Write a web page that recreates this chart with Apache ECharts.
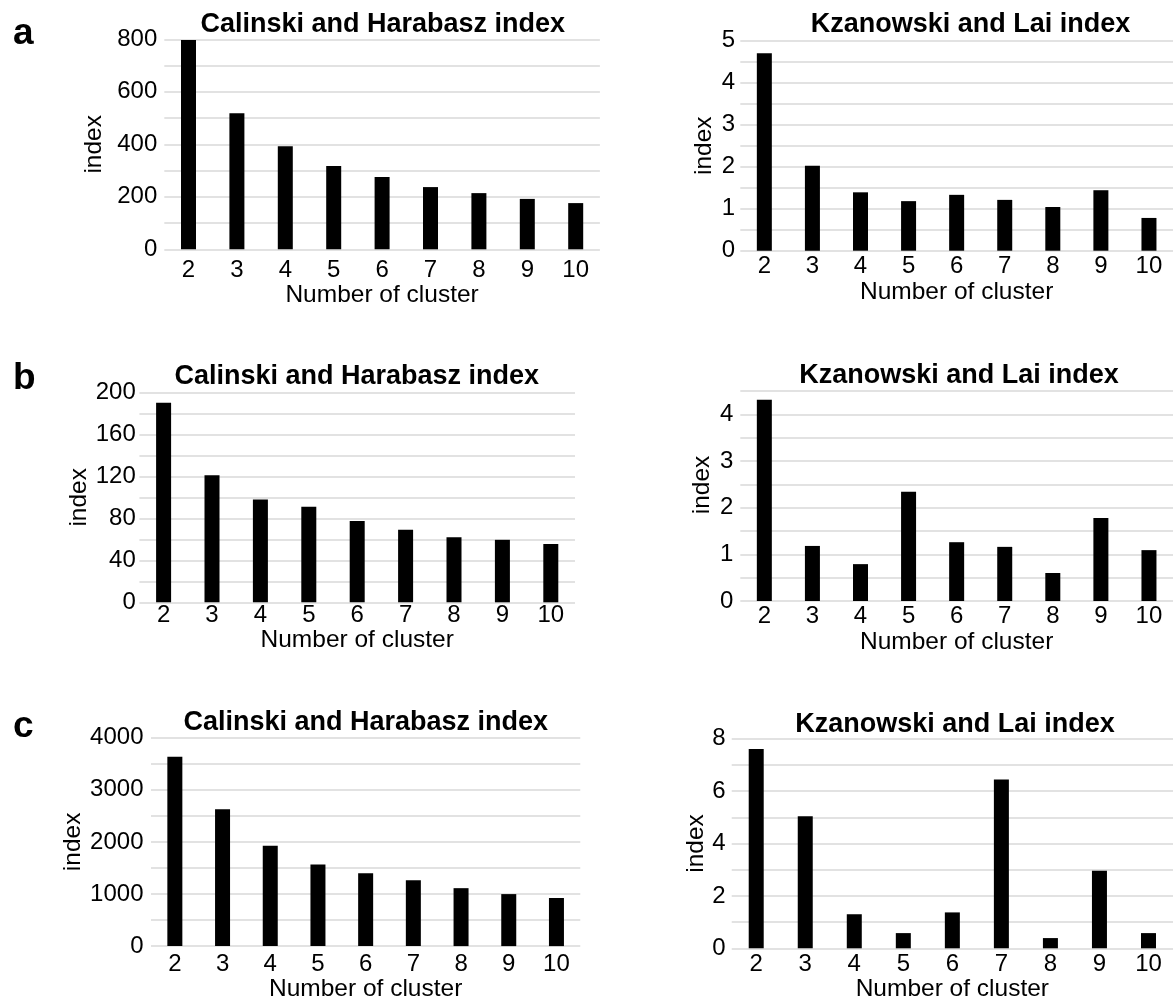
<!DOCTYPE html>
<html>
<head>
<meta charset="utf-8">
<script src="https://cdn.jsdelivr.net/npm/echarts@6/dist/echarts.min.js"></script>
<style>
  html, body { margin: 0; padding: 0; background: #ffffff; }
  #chart { width: 1173px; height: 1003px; }
</style>
</head>
<body>
<div id="chart"></div>
<script>
// Number of clusters on the x axis
const clusters = ['2', '3', '4', '5', '6', '7', '8', '9', '10'];

// Calinski and Harabasz index per dataset
const chA = [797, 518, 393, 317, 275, 237, 214, 192, 176];
const chB = [190, 121, 98, 91, 77.5, 69, 62, 59.5, 55.5];
const chC = [3633, 2629, 1927, 1567, 1397, 1264, 1112, 998, 923];

// Kzanowski and Lai index per dataset
const klA = [4.70, 2.02, 1.39, 1.18, 1.33, 1.21, 1.04, 1.44, 0.78];
const klB = [4.31, 1.18, 0.79, 2.34, 1.26, 1.16, 0.60, 1.78, 1.09];
const klC = [7.61, 5.04, 1.30, 0.58, 1.37, 6.44, 0.39, 2.96, 0.58];

// y scales: [max, gridline step, label step]
const scaleChA = [800, 100, 200];
const scaleKlA = [5, 0.5, 1];
const scaleChB = [200, 20, 40];
const scaleKlB = [4.5, 0.5, 1];
const scaleChC = [4000, 500, 1000];
const scaleKlC = [8, 1, 2];

const chTitle = 'Calinski and Harabasz index';
const klTitle = 'Kzanowski and Lai index';
const xName = 'Number of cluster';
const yName = 'index';
const panelLetters = ['a', 'b', 'c'];

const FONT = '"Liberation Sans", Arial, Helvetica, sans-serif';
const GRID_COLOR = '#d9d9d9';
const TICK_SIZE = 24;
const NAME_SIZE = 24.5;

// layout of each panel
const panels = [
  { data: chA, scale: scaleChA, title: chTitle, rect: [164.3, 39.3, 435.6, 210], titlePos: [382.7, 25],
    yMargin: 7, xMargin: 9, yNameGap: 58, xNameGap: 30, yNameShift: 0 },
  { data: klA, scale: scaleKlA, title: klTitle, rect: [740.3, 40.7, 437.4, 210], titlePos: [970.5, 25],
    yMargin: 5.3, xMargin: 4, yNameGap: 24, xNameGap: 26, yNameShift: 0 },
  { data: chB, scale: scaleChB, title: chTitle, rect: [139.4, 392.3, 435.6, 210], titlePos: [356.8, 376.7],
    yMargin: 3.6, xMargin: 0.8, yNameGap: 45, xNameGap: 21, yNameShift: 0 },
  { data: klB, scale: scaleKlB, title: klTitle, rect: [740.3, 391, 437.4, 210], titlePos: [959.1, 375.5],
    yMargin: 7, xMargin: 3.7, yNameGap: 26, xNameGap: 23, yNameShift: 22 },
  { data: chC, scale: scaleChC, title: chTitle, rect: [151, 737.7, 429.3, 211], titlePos: [365.8, 722.7],
    yMargin: 7.5, xMargin: 6, yNameGap: 65, xNameGap: 30.3, yNameShift: 0 },
  { data: klC, scale: scaleKlC, title: klTitle, rect: [731.7, 738.7, 447.3, 211.6], titlePos: [955, 725],
    yMargin: 6, xMargin: 3.7, yNameGap: 18.7, xNameGap: 28.7, yNameShift: 0 }
];

const letterPos = [[13, 34], [13, 379], [13, 727]];

const grid = [], xAxis = [], yAxis = [], series = [], graphic = [];

panels.forEach((p, i) => {
  const [max, step, labelStep] = p.scale;
  grid.push({ left: p.rect[0], top: p.rect[1], width: p.rect[2], height: p.rect[3], containLabel: false });
  xAxis.push({
    type: 'category', gridIndex: i, data: clusters,
    axisLine: { show: false }, axisTick: { show: false },
    axisLabel: { color: '#000', fontFamily: FONT, fontSize: TICK_SIZE, margin: p.xMargin, interval: 0 },
    name: xName, nameLocation: 'middle', nameGap: p.xNameGap,
    nameTextStyle: { color: '#000', fontFamily: FONT, fontSize: NAME_SIZE }
  });
  yAxis.push({
    type: 'value', gridIndex: i, min: 0, max: max, interval: step,
    axisLine: { show: false }, axisTick: { show: false },
    splitLine: { show: true, lineStyle: { color: GRID_COLOR, width: 1.5 } },
    axisLabel: {
      color: '#000', fontFamily: FONT, fontSize: TICK_SIZE, margin: p.yMargin,
      formatter: v => {
        const r = v / labelStep;
        return Math.abs(r - Math.round(r)) < 1e-6 ? String(Math.round(v * 1000) / 1000) : '';
      }
    },
    name: yName, nameLocation: 'middle', nameGap: p.yNameGap,
    nameTextStyle: {
      color: '#000', fontFamily: FONT, fontSize: NAME_SIZE,
      padding: [0, 0, 0, p.yNameShift]
    }
  });
  series.push({
    type: 'bar', xAxisIndex: i, yAxisIndex: i, data: p.data,
    barWidth: 15, itemStyle: { color: '#000000' }, silent: true
  });
  graphic.push({
    type: 'text', x: p.titlePos[0], y: p.titlePos[1],
    style: { text: p.title, font: 'bold 27px ' + FONT, fill: '#000', align: 'center', verticalAlign: 'middle' }
  });
});

panelLetters.forEach((t, i) => {
  graphic.push({
    type: 'text', x: letterPos[i][0], y: letterPos[i][1],
    style: { text: t, font: 'bold 37px ' + FONT, fill: '#000', align: 'left', verticalAlign: 'middle' }
  });
});

const chart = echarts.init(document.getElementById('chart'), null, { renderer: 'canvas' });
chart.setOption({
  backgroundColor: '#ffffff',
  animation: false,
  grid, xAxis, yAxis, series, graphic
});
</script>
</body>
</html>
